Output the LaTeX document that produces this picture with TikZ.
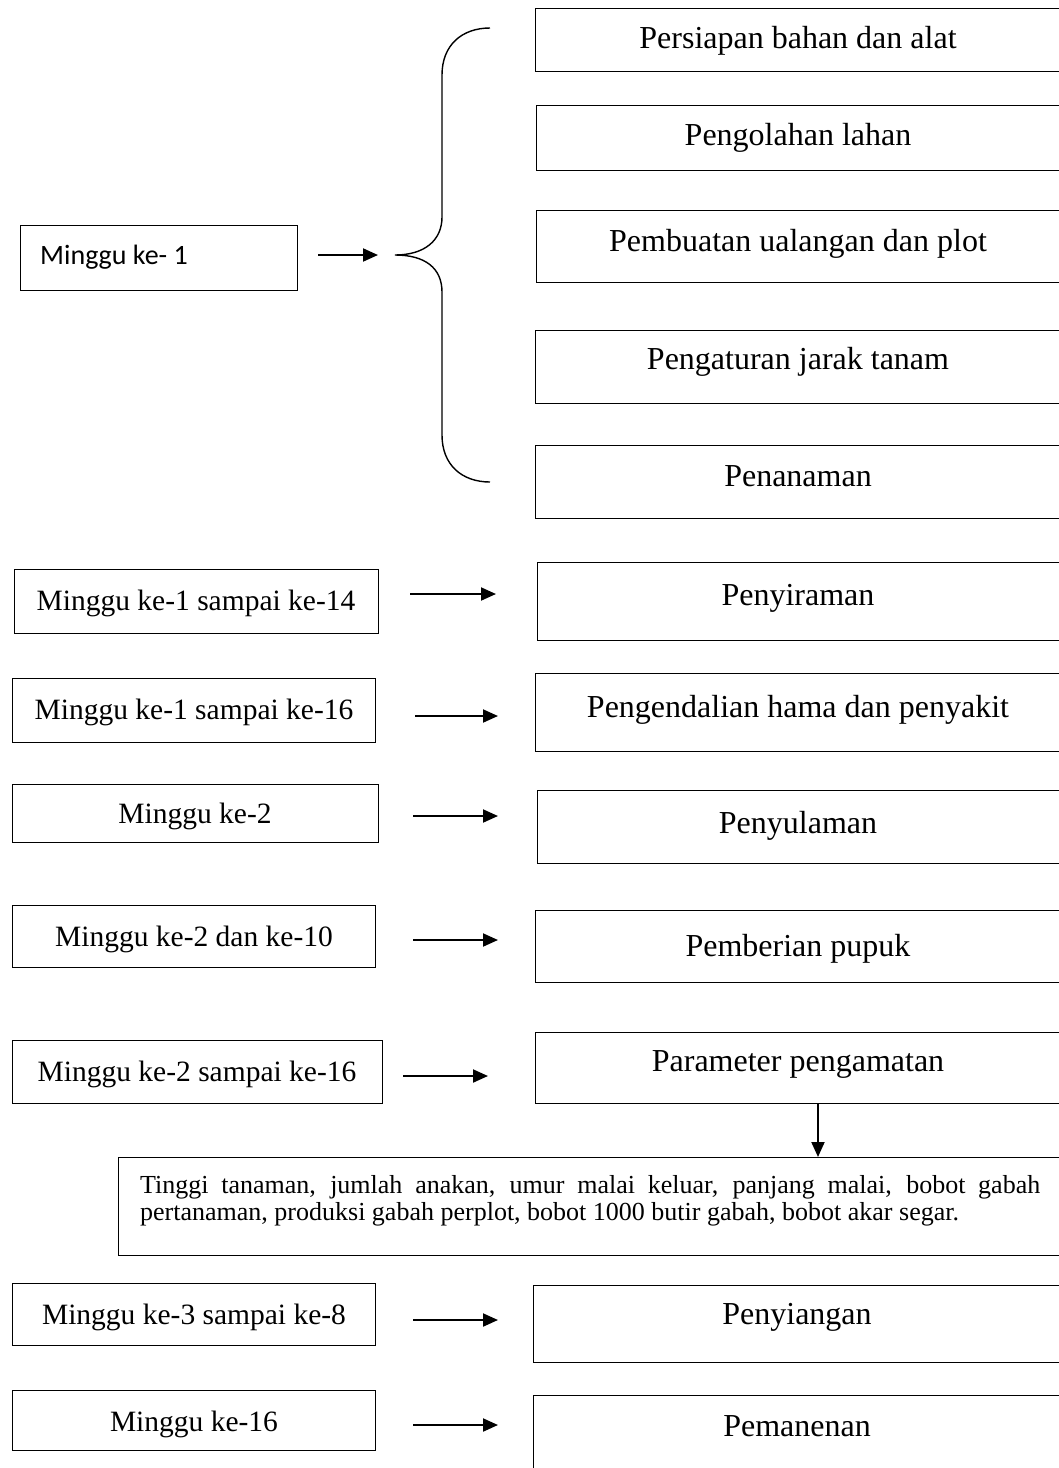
\documentclass[tikz,border=0pt]{standalone}
\usepackage{fontspec}
\setmainfont{Liberation Serif}
\newfontfamily\calfont{Carlito}
\usetikzlibrary{arrows.meta}
\begin{document}
\begin{tikzpicture}[x=1pt,y=-1pt,
  boxst/.style={draw, line width=1.4pt, rectangle, inner sep=0pt},
  rtxt/.style={font=\fontsize{32}{38}\selectfont, inner sep=0pt, anchor=base},
  ltxt/.style={font=\fontsize{29.5}{35}\selectfont, inner sep=0pt, anchor=base},
  arr/.style={line width=2pt, -{Triangle[length=15pt,width=13pt]}},
]
\useasboundingbox (0,0) rectangle (1059,1468);
\clip (0,0) rectangle (1059,1468);
\fill[white] (0,0) rectangle (1059,1468);

% Week 1 box
\node[boxst, minimum width=277pt, minimum height=65pt, anchor=north west] (w1) at (20,225) {};
\node[anchor=base west, inner sep=0pt, font=\calfont\fontsize{28}{33}\selectfont] (w1t) at (40,264) {Minggu ke- 1};
\coordinate (a1s) at (318,255);
\coordinate (a1e) at (378,255);
\draw[arr] (a1s) -- (a1e);

% brace
\coordinate (brtip) at (395,255);
\draw[line width=1.4pt] (490,28) .. controls (462,28) and (442,45) .. (442,75)
  -- (442,217) .. controls (442,240) and (425,255) .. (brtip)
  .. controls (425,255) and (442,268) .. (442,292)
  -- (442,435) .. controls (442,465) and (462,482) .. (490,482);

% right boxes (top group)
\node[boxst, minimum width=526pt, minimum height=63pt, anchor=north west] (r1) at (535,8) {};
\node[rtxt] (r1t) at (798,48) {Persiapan bahan dan alat};
\node[boxst, minimum width=526pt, minimum height=65pt, anchor=north west] (r2) at (536,105) {};
\node[rtxt] (r2t) at (798,145) {Pengolahan lahan};
\node[boxst, minimum width=526pt, minimum height=72pt, anchor=north west] (r3) at (536,210) {};
\node[rtxt] (r3t) at (798,251) {Pembuatan ualangan dan plot};
\node[boxst, minimum width=526pt, minimum height=73pt, anchor=north west] (r4) at (535,330) {};
\node[rtxt] (r4t) at (798,369) {Pengaturan jarak tanam};
\node[boxst, minimum width=526pt, minimum height=73pt, anchor=north west] (r5) at (535,445) {};
\node[rtxt] (r5t) at (798,486) {Penanaman};

% Row: Penyiraman
\node[boxst, minimum width=364pt, minimum height=64pt, anchor=north west] (l2) at (14,569) {};
\node[ltxt] (l2t) at (196,610) {Minggu ke-1 sampai ke-14};
\node[boxst, minimum width=524pt, minimum height=78pt, anchor=north west] (p2) at (537,562) {};
\node[rtxt] (p2t) at (798,605) {Penyiraman};
\coordinate (a2s) at (410,594);
\coordinate (a2e) at (496,594);
\draw[arr] (a2s) -- (a2e);

% Row: Pengendalian
\node[boxst, minimum width=363pt, minimum height=64pt, anchor=north west] (l3) at (12,678) {};
\node[ltxt] (l3t) at (194,719) {Minggu ke-1 sampai ke-16};
\node[boxst, minimum width=526pt, minimum height=78pt, anchor=north west] (p3) at (535,673) {};
\node[rtxt] (p3t) at (798,717) {Pengendalian hama dan penyakit};
\coordinate (a3s) at (415,716);
\coordinate (a3e) at (498,716);
\draw[arr] (a3s) -- (a3e);

% Row: Penyulaman
\node[boxst, minimum width=366pt, minimum height=58pt, anchor=north west] (l4) at (12,784) {};
\node[ltxt] (l4t) at (195,823) {Minggu ke-2};
\node[boxst, minimum width=524pt, minimum height=73pt, anchor=north west] (p4) at (537,790) {};
\node[rtxt] (p4t) at (798,833) {Penyulaman};
\coordinate (a4s) at (413,816);
\coordinate (a4e) at (498,816);
\draw[arr] (a4s) -- (a4e);

% Row: Pemberian pupuk
\node[boxst, minimum width=363pt, minimum height=62pt, anchor=north west] (l5) at (12,905) {};
\node[ltxt] (l5t) at (194,946) {Minggu ke-2 dan ke-10};
\node[boxst, minimum width=526pt, minimum height=72pt, anchor=north west] (p5) at (535,910) {};
\node[rtxt] (p5t) at (798,956) {Pemberian pupuk};
\coordinate (a5s) at (413,940);
\coordinate (a5e) at (498,940);
\draw[arr] (a5s) -- (a5e);

% Row: Parameter
\node[boxst, minimum width=370pt, minimum height=63pt, anchor=north west] (l6) at (12,1040) {};
\node[ltxt] (l6t) at (197,1081) {Minggu ke-2 sampai ke-16};
\node[boxst, minimum width=526pt, minimum height=71pt, anchor=north west] (p6) at (535,1032) {};
\node[rtxt] (p6t) at (798,1071) {Parameter pengamatan};
\coordinate (a6s) at (403,1076);
\coordinate (a6e) at (488,1076);
\draw[arr] (a6s) -- (a6e);

% Long box
\node[boxst, minimum width=950pt, minimum height=98pt, anchor=north west] (obs) at (118,1157) {};
\draw[arr] (p6.south -| 818,0) -- (obs.north -| 818,0);
\node[anchor=base west, inner sep=0pt, text width=900pt, align=justify, font=\fontsize{26}{27}\selectfont] (obst) at (140,1193)
  {Tinggi tanaman, jumlah anakan, umur malai keluar, panjang malai, bobot gabah\linebreak pertanaman, produksi gabah perplot, bobot 1000 butir gabah, bobot akar segar.};

% Row: Penyiangan
\node[boxst, minimum width=363pt, minimum height=62pt, anchor=north west] (l7) at (12,1283) {};
\node[ltxt] (l7t) at (194,1324) {Minggu ke-3 sampai ke-8};
\node[boxst, minimum width=528pt, minimum height=77pt, anchor=north west] (p7) at (533,1285) {};
\node[rtxt] (p7t) at (797,1324) {Penyiangan};
\coordinate (a7s) at (413,1320);
\coordinate (a7e) at (498,1320);
\draw[arr] (a7s) -- (a7e);

% Row: Pemanenan
\node[boxst, minimum width=363pt, minimum height=60pt, anchor=north west] (l8) at (12,1390) {};
\node[ltxt] (l8t) at (194,1431) {Minggu ke-16};
\node[boxst, minimum width=528pt, minimum height=90pt, anchor=north west] (p8) at (533,1395) {};
\node[rtxt] (p8t) at (797,1436) {Pemanenan};
\coordinate (a8s) at (413,1425);
\coordinate (a8e) at (498,1425);
\draw[arr] (a8s) -- (a8e);
\end{tikzpicture}
\end{document}
